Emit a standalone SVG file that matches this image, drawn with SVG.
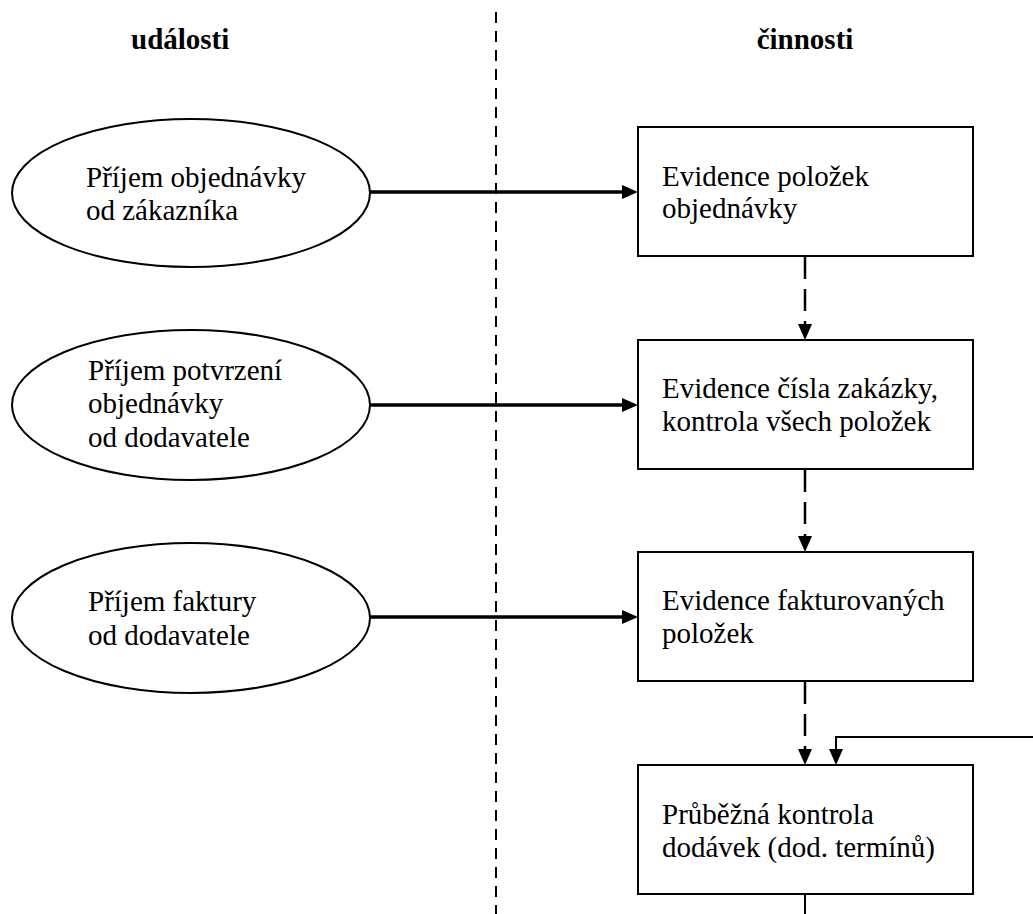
<svg xmlns="http://www.w3.org/2000/svg" width="1033" height="914" viewBox="0 0 1033 914">
  <style>
    text { font-family: "Liberation Serif", Tinos, "DejaVu Serif", serif; font-size: 29px; fill: #000; }
    .head { font-weight: bold; }
    .node { fill: #fff; stroke: #000; stroke-width: 2; }
    .flow { fill: none; stroke: #000; stroke-width: 3.5; }
    .seq { fill: none; stroke: #000; stroke-width: 2.5; stroke-dasharray: 22 10; }
    .thin { fill: none; stroke: #000; stroke-width: 2; }
    .divider { fill: none; stroke: #000; stroke-width: 2; stroke-dasharray: 11 8; }
  </style>
  <defs>
    <marker id="arrow" viewBox="0 0 16 14" refX="0" refY="7" markerWidth="16" markerHeight="14" markerUnits="userSpaceOnUse" orient="auto">
      <path d="M0,0 L16,7 L0,14 Z" fill="#000"/>
    </marker>
  </defs>

  <rect width="1033" height="914" fill="#fff"/>

  <!-- lane divider -->
  <line class="divider" x1="496" y1="12" x2="496" y2="914"/>

  <!-- lane headers -->
  <g font-family="Liberation Serif, serif">
    <text class="head" x="131" y="49">události</text>
    <text class="head" x="805" y="49" text-anchor="middle">činnosti</text>
  </g>

  <!-- connectors -->
  <g id="connectors">
    <line class="flow" x1="370" y1="192" x2="622" y2="192" marker-end="url(#arrow)"/>
    <line class="flow" x1="370" y1="405" x2="622" y2="405" marker-end="url(#arrow)"/>
    <line class="flow" x1="370" y1="617" x2="622" y2="617" marker-end="url(#arrow)"/>
    <line class="seq" x1="805" y1="257" x2="805" y2="324" marker-end="url(#arrow)"/>
    <line class="seq" x1="805" y1="470" x2="805" y2="536" marker-end="url(#arrow)"/>
    <line class="seq" x1="805" y1="682" x2="805" y2="749" marker-end="url(#arrow)"/>
    <polyline class="thin" points="1033,737 836,737 836,749" marker-end="url(#arrow)"/>
    <line class="thin" x1="805" y1="894" x2="805" y2="914"/>
  </g>

  <!-- events -->
  <g id="event-objednavka">
    <ellipse class="node" cx="191" cy="193" rx="179" ry="74"/>
    <text x="86" y="187">Příjem objednávky</text>
    <text x="86" y="220">od zákazníka</text>
  </g>
  <g id="event-potvrzeni">
    <ellipse class="node" cx="191" cy="405" rx="179" ry="75"/>
    <text x="88" y="380">Příjem potvrzení</text>
    <text x="88" y="413">objednávky</text>
    <text x="88" y="447">od dodavatele</text>
  </g>
  <g id="event-faktura">
    <ellipse class="node" cx="191" cy="618" rx="179" ry="75"/>
    <text x="88" y="611">Příjem faktury</text>
    <text x="88" y="645">od dodavatele</text>
  </g>

  <!-- activities -->
  <g id="act-evidence-polozek">
    <rect class="node" x="638" y="127" width="335" height="129"/>
    <text x="662" y="186">Evidence položek</text>
    <text x="662" y="218">objednávky</text>
  </g>
  <g id="act-evidence-zakazky">
    <rect class="node" x="638" y="340" width="335" height="129"/>
    <text x="662" y="398">Evidence čísla zakázky,</text>
    <text x="662" y="431">kontrola všech položek</text>
  </g>
  <g id="act-evidence-faktury">
    <rect class="node" x="638" y="552" width="335" height="129"/>
    <text x="662" y="610">Evidence fakturovaných</text>
    <text x="662" y="643">položek</text>
  </g>
  <g id="act-kontrola-dodavek">
    <rect class="node" x="638" y="765" width="335" height="129"/>
    <text x="662" y="824">Průběžná kontrola</text>
    <text x="662" y="857">dodávek (dod. termínů)</text>
  </g>
</svg>
